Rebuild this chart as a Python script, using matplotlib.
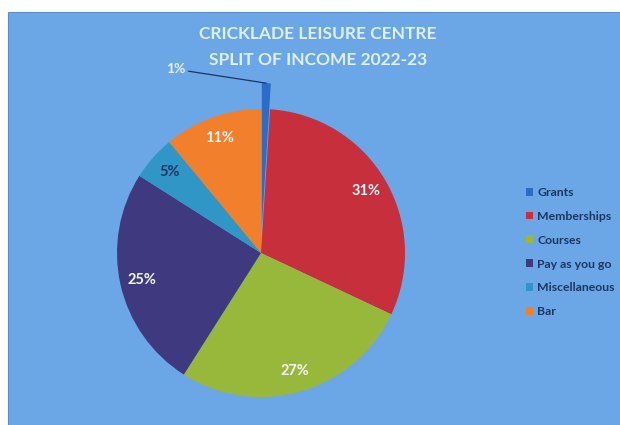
import matplotlib
matplotlib.use('Agg')
import matplotlib.pyplot as plt
from matplotlib.patches import Rectangle
import numpy as np

# data
categories = ['Grants', 'Memberships', 'Courses', 'Pay as you go', 'Miscellaneous', 'Bar']
shares = [1, 31, 27, 25, 5, 11]
colors = ['#2b6cc6', '#c62f3b', '#98b83b', '#3f3a80', '#2f96c6', '#f27f2b']
title_lines = ['CRICKLADE LEISURE CENTRE', 'SPLIT OF INCOME 2022-23']

bg = '#6ba7e6'
navy = '#1d3563'

fig = plt.figure(figsize=(6.2, 4.25), dpi=100)
fig.patch.set_facecolor('white')
fig.patches.append(Rectangle((8 / 620, 0), 612 / 620, 413 / 425,
                             transform=fig.transFigure, facecolor=bg,
                             edgecolor='#5b8fcc', linewidth=0.8, zorder=-5))

ax = fig.add_axes([0, 0, 1, 1])
ax.patch.set_alpha(0)

R = 144
# explode is in data units here (radius is not 1)
explode = [0.18 * R, 0, 0, 0, 0, 0]
wedges, texts, autotexts = ax.pie(shares,
                                  colors=colors,
                                  startangle=90,
                                  counterclock=False,
                                  explode=explode,
                                  center=(261, 172),
                                  radius=R,
                                  autopct='%1.0f%%',
                                  pctdistance=0.85,
                                  wedgeprops={'linewidth': 0},
                                  textprops={'fontsize': 10.5, 'fontweight': 'bold',
                                             'color': '#f6f6f6', 'family': 'Lato'})
ax.set_xlim(0, 620)
ax.set_ylim(0, 425)
ax.set_aspect('equal')
ax.axis('off')

# 5% label is dark in the original
autotexts[4].set_color(navy)

# small grants slice: label outside with leader line
autotexts[0].set_text('')
w = wedges[0]
mid = np.deg2rad((w.theta1 + w.theta2) / 2)
tip = (w.center[0] + w.r * np.cos(mid), w.center[1] + w.r * np.sin(mid))
ax.annotate('%d%%' % shares[0], xy=tip, xytext=(-58, 10), textcoords='offset points',
            ha='right', va='center', fontsize=10, fontweight='bold',
            color='#e4f0fb', family='Lato',
            arrowprops=dict(arrowstyle='-', color=navy, lw=0.9,
                            shrinkA=0, shrinkB=0))

fig.text(318 / 620, 1 - 34 / 425, title_lines[0], ha='center', va='center',
         fontsize=12.5, fontweight='bold', color='#def0fc', family='Lato')
fig.text(318 / 620, 1 - 60 / 425, title_lines[1], ha='center', va='center',
         fontsize=12.5, fontweight='bold', color='#def0fc', family='Lato')

leg = ax.legend(wedges, categories, loc='upper left',
                bbox_to_anchor=(515 / 620, 1 - 176 / 425),
                frameon=False, handlelength=0.6, handleheight=0.6,
                handletextpad=0.3, labelspacing=1.05,
                prop={'family': 'Lato', 'weight': 'bold', 'size': 8.8},
                labelcolor=navy)

plt.savefig('out.png', dpi=100)
